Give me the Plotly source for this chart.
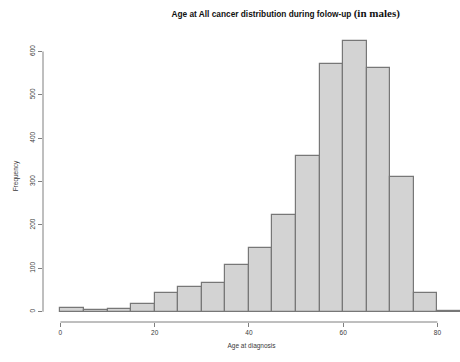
import plotly.graph_objects as go

# Data
bin_edges = [0, 5, 10, 15, 20, 25, 30, 35, 40, 45, 50, 55, 60, 65, 70, 75, 80, 85]
counts = [8, 3, 7, 18, 44, 58, 67, 108, 148, 223, 360, 572, 624, 561, 311, 43, 1]
x_ticks = [0, 20, 40, 60, 80]
y_ticks = [0, 100, 200, 300, 400, 500, 600]

bin_width = bin_edges[1] - bin_edges[0]
centers = [(a + b) / 2 for a, b in zip(bin_edges[:-1], bin_edges[1:])]

axis_col = "#7f7f7f"
text_col = "#3a3a3a"
font_fam = "Liberation Sans, Arial, sans-serif"

fig = go.Figure(
    go.Bar(
        x=centers,
        y=counts,
        width=bin_width,
        marker=dict(color="#D3D3D3", line=dict(color="#777777", width=1.2)),
    )
)

fig.update_layout(
    width=460,
    height=362,
    margin=dict(l=43, r=0, t=30, b=40),
    paper_bgcolor="white",
    plot_bgcolor="white",
    showlegend=False,
    bargap=0,
    title=dict(
        text='<b>Age at All cancer distribution during folow-up</b> '
        '<span style="font-family:Liberation Serif;font-size:11px"><b>(in males)</b></span>',
        x=0.621,
        xanchor="center",
        y=0.962,
        yanchor="middle",
        font=dict(family=font_fam, size=8.3, color="#111111"),
    ),
    xaxis=dict(
        range=[-3.7, 84.8],
        tickvals=x_ticks,
        ticktext=[str(v) for v in x_ticks],
        ticks="outside",
        ticklen=4,
        tickcolor=axis_col,
        tickwidth=1,
        showgrid=False,
        zeroline=False,
        showline=False,
        tickfont=dict(family=font_fam, size=6.5, color=text_col),
        title=dict(text="Age at diagnosis", font=dict(family=font_fam, size=6.5, color=text_col), standoff=8),
        automargin=False,
    ),
    yaxis=dict(
        range=[-23.7, 649.5],
        tickvals=y_ticks,
        ticktext=[str(v) for v in y_ticks],
        tickangle=-90,
        ticks="outside",
        ticklen=4,
        tickcolor=axis_col,
        tickwidth=1,
        showgrid=False,
        zeroline=False,
        showline=False,
        tickfont=dict(family=font_fam, size=6.5, color=text_col),
        title=dict(text="Frequency", font=dict(family=font_fam, size=6.5, color=text_col), standoff=10),
        automargin=False,
    ),
)

# R-style axis lines spanning only the tick range
fig.add_shape(type="line", xref="x", yref="paper", x0=min(x_ticks), x1=max(x_ticks), y0=0, y1=0,
              line=dict(color=axis_col, width=1))
fig.add_shape(type="line", xref="paper", yref="y", x0=0, x1=0, y0=min(y_ticks), y1=max(y_ticks),
              line=dict(color=axis_col, width=1))

fig.write_html(
    "out.html",
    config={"displayModeBar": False},
    post_script="document.body.style.margin='0';document.body.style.overflow='hidden';",
)
